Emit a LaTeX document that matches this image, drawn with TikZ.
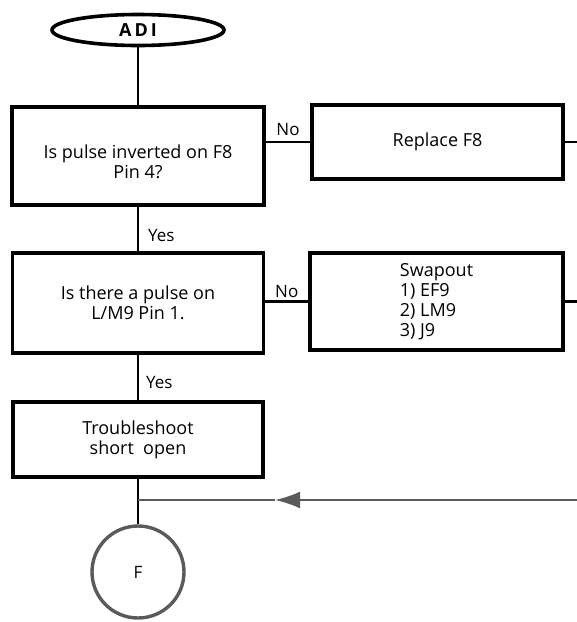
\documentclass[tikz,border=0pt]{standalone}
\usepackage{fontspec}
\setmainfont{Open Sans}
\usetikzlibrary{arrows.meta,positioning,calc,shapes.geometric}
\definecolor{lineGray}{HTML}{5A5A5A}

\begin{document}
\begin{tikzpicture}[x=1pt, y=-1pt,
    box/.style={draw, line width=3.4pt, minimum width=252pt, align=center,
      font=\fontsize{18}{20}\selectfont},
    lbl/.style={font=\fontsize{17}{19}\selectfont, inner sep=0pt},
    link/.style={line width=2.2pt}]
  \useasboundingbox (0,0) rectangle (577,622);
  % Start
  \node[draw, ellipse, line width=3.6pt, minimum width=172pt, minimum height=31pt,
    inner sep=0pt, font=\bfseries\fontsize{18}{20}\selectfont] (adi) at (138,30) {A\,D\,I};
  % Boxes
  \node[box, minimum height=98pt] (inv) at (138,156) {\rule{0pt}{26pt}Is pulse inverted on F8\\Pin 4?};
  \node[box, minimum height=74pt, minimum width=251pt] (repl) at (437.5,142) {Replace F8};
  \node[box, minimum height=100pt, minimum width=251pt] (pulse) at (138,303) {Is there a pulse on\\L/M9 Pin 1.};
  \node[box, minimum height=97pt, minimum width=253pt, align=left] (swap) at (436.5,301.5)
    {Swapout\\1) EF9\\2) LM9\\3) J9};
  \node[box, minimum height=75pt, minimum width=250pt] (trbl) at (138,439.5) {Troubleshoot\\short\ \ open};
  % Exit
  \node[draw=lineGray, circle, line width=3.4pt, minimum size=92pt, inner sep=0pt,
    font=\fontsize{17}{19}\selectfont] (exf) at (138,572) {F};
  % Free ends
  \coordinate (r1) at (577,142);
  \coordinate (r2) at (577,301.5);
  \coordinate (r3) at (577,500);
  \coordinate (tip) at (275,500);
  \coordinate (jn) at (138,500);
  % Connectors
  \draw[link] (adi.south) -- (inv.north);
  \draw[link] (inv.south) -- node[lbl, right=9pt, pos=0.65] {Yes} (pulse.north);
  \draw[link] (pulse.south) -- node[lbl, right=7pt, pos=0.6] {Yes} (trbl.north);
  \draw[link] (repl.west -| inv.east) -- node[lbl, above=5pt] {No} (repl.west);
  \draw[link] (swap.west -| pulse.east) -- node[lbl, above=3pt] {No} (swap.west);
  \draw[link] (repl.east) -- (r1);
  \draw[link] (swap.east) -- (r2);
  \draw[link] (trbl.south) -- (exf.north);
  \draw[link, lineGray, -{Latex[length=25pt,width=17pt]}] (r3) -- (tip);
  \draw[link, lineGray] (tip) -- (jn);
\end{tikzpicture}
\end{document}
